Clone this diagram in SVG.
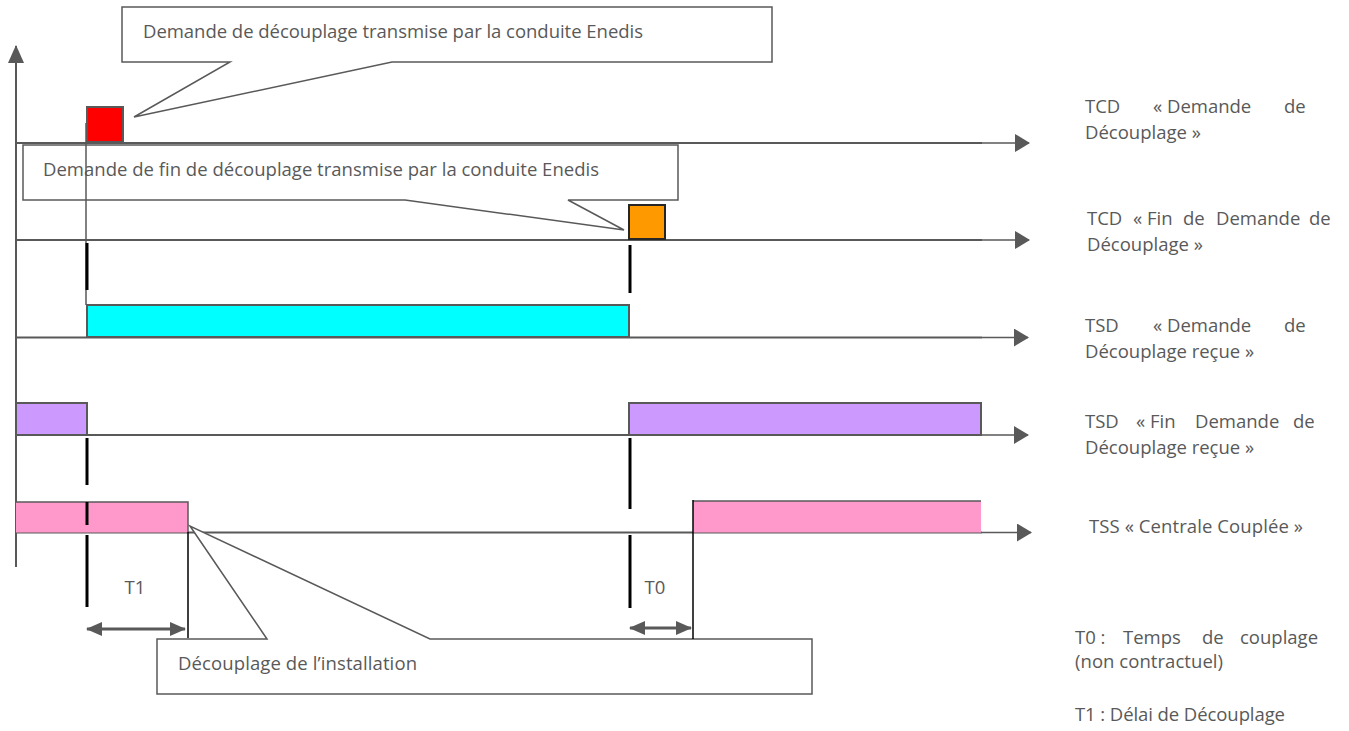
<svg xmlns="http://www.w3.org/2000/svg" width="1349" height="731" viewBox="0 0 1349 731">
<style>
  text { font-family: "Open Sans", "Liberation Sans", sans-serif; font-size: 18.5px; fill: #595959; }
  .axis { stroke: #595959; stroke-width: 2; fill: none; }
  .thin { stroke: #595959; stroke-width: 1.5; fill: none; }
  .tick { stroke: #000; stroke-width: 3; fill: none; }
  .tickthin { stroke: #000; stroke-width: 1.5; fill: none; }
  .dim { stroke: #595959; stroke-width: 3; fill: none; }
  .callout { fill: #fff; stroke: #595959; stroke-width: 1.5; }
  .bar { stroke: #595959; stroke-width: 2; }
</style>
<defs>
  <marker id="arr" viewBox="0 0 15 18" refX="14" refY="9" markerWidth="15" markerHeight="18" markerUnits="userSpaceOnUse" orient="auto">
    <path d="M0,0 L15,9 L0,18 Z" fill="#595959"/>
  </marker>
  <marker id="arrV" viewBox="0 0 18 16" refX="17" refY="8" markerWidth="18" markerHeight="16" markerUnits="userSpaceOnUse" orient="auto">
    <path d="M0,0 L18,8 L0,16 Z" fill="#595959"/>
  </marker>
  <marker id="dimA" viewBox="0 0 16 14" refX="15" refY="7" markerWidth="16" markerHeight="14" markerUnits="userSpaceOnUse" orient="auto-start-reverse">
    <path d="M0,0 L16,7 L0,14 Z" fill="#595959"/>
  </marker>
</defs>

<g id="connectors">
  <line class="axis" x1="16" y1="567" x2="16" y2="46" marker-end="url(#arrV)"/>
  <line class="axis" x1="16" y1="143" x2="982" y2="143"/>
  <line class="thin" x1="982" y1="143" x2="1029" y2="143" marker-end="url(#arr)"/>
  <line class="axis" x1="16" y1="240" x2="982" y2="240"/>
  <line class="thin" x1="982" y1="240" x2="1029" y2="240" marker-end="url(#arr)"/>
  <line class="axis" x1="16" y1="337.5" x2="982" y2="337.5"/>
  <line class="thin" x1="982" y1="337.5" x2="1028" y2="337.5" marker-end="url(#arr)"/>
  <line class="axis" x1="16" y1="435" x2="982" y2="435"/>
  <line class="thin" x1="982" y1="435" x2="1028" y2="435" marker-end="url(#arr)"/>
  <line class="axis" x1="16" y1="532.5" x2="982" y2="532.5"/>
  <line class="thin" x1="982" y1="532.5" x2="1031" y2="532.5" marker-end="url(#arr)"/>
</g>

<g id="bar-cyan">
  <rect class="bar" x="87" y="305" width="542" height="32" fill="#00FFFF"/>
</g>
<g id="bar-purple-1">
  <rect class="bar" x="16" y="403" width="71" height="32" fill="#CC99FF"/>
</g>
<g id="bar-purple-2">
  <rect class="bar" x="629" y="403" width="352" height="32" fill="#CC99FF"/>
</g>
<g id="bar-pink-1">
  <rect x="16" y="502" width="172" height="30.5" fill="#FF99CC"/>
  <path class="thin" d="M16,502 H188 V532"/>
</g>
<g id="bar-pink-2">
  <rect x="693" y="501" width="288" height="31.5" fill="#FF99CC"/>
  <line class="thin" x1="693" y1="501" x2="981" y2="501"/>
</g>

<g id="callout-demande">
  <path class="callout" d="M122,7 H772 V62 H392 L134,117 L230,62 H122 Z"/>
  <text x="143" y="38" textLength="500" lengthAdjust="spacing">Demande de découplage transmise par la conduite Enedis</text>
</g>
<g id="callout-fin">
  <path class="callout" d="M23,145 H678 V200 H568 L624,230 L405,200 H23 Z"/>
  <text x="43" y="176" textLength="556" lengthAdjust="spacing">Demande de fin de découplage transmise par la conduite Enedis</text>
</g>
<g id="callout-decouplage">
  <path class="callout" d="M157,639 H267 L190,526 L430,639 H812 V694 H157 Z"/>
  <text x="178" y="670" textLength="239" lengthAdjust="spacing">Découplage de l’installation</text>
</g>

<g id="square-red">
  <rect x="87" y="107" width="36" height="35" fill="#FF0000" stroke="#595959" stroke-width="2"/>
</g>
<g id="square-orange">
  <rect x="629" y="205" width="36" height="34" fill="#FF9900" stroke="#262626" stroke-width="2"/>
</g>

<g id="markers">
  <line class="thin" x1="86" y1="123" x2="86" y2="305"/>
  <line class="tick" x1="87" y1="243" x2="87" y2="290"/>
  <line class="tick" x1="87" y1="438" x2="87" y2="485"/>
  <line class="tick" x1="87" y1="502" x2="87" y2="525"/>
  <line class="tick" x1="87" y1="535" x2="87" y2="607"/>
  <line class="tick" x1="630" y1="245" x2="630" y2="293"/>
  <line class="tick" x1="630" y1="438" x2="630" y2="509"/>
  <line class="tick" x1="630" y1="535" x2="630" y2="608"/>
  <line class="tickthin" x1="188" y1="532" x2="188" y2="638"/>
  <line class="tickthin" x1="693" y1="500" x2="693" y2="639"/>
  <line class="dim" x1="87" y1="629" x2="185" y2="629" marker-start="url(#dimA)" marker-end="url(#dimA)"/>
  <line class="dim" x1="630" y1="628" x2="691" y2="628" marker-start="url(#dimA)" marker-end="url(#dimA)"/>
</g>

<g id="dim-labels">
  <text x="135" y="594" text-anchor="middle">T1</text>
  <text x="655" y="594" text-anchor="middle">T0</text>
</g>

<g id="label-tcd-demande">
  <text y="113"><tspan x="1085">TCD</tspan><tspan x="1153">« Demande</tspan><tspan x="1284">de</tspan></text>
  <text x="1085" y="139">Découplage »</text>
</g>
<g id="label-tcd-fin">
  <text y="225"><tspan x="1087">TCD</tspan><tspan x="1133">« Fin</tspan><tspan x="1183">de</tspan><tspan x="1216">Demande</tspan><tspan x="1309">de</tspan></text>
  <text x="1087" y="251">Découplage »</text>
</g>
<g id="label-tsd-demande">
  <text y="332"><tspan x="1085">TSD</tspan><tspan x="1153">« Demande</tspan><tspan x="1284">de</tspan></text>
  <text x="1085" y="358">Découplage reçue »</text>
</g>
<g id="label-tsd-fin">
  <text y="428"><tspan x="1085">TSD</tspan><tspan x="1136">« Fin</tspan><tspan x="1195">Demande</tspan><tspan x="1293">de</tspan></text>
  <text x="1085" y="454">Découplage reçue »</text>
</g>
<g id="label-tss">
  <text x="1089" y="533" textLength="214" lengthAdjust="spacing">TSS « Centrale Couplée »</text>
</g>
<g id="legend">
  <text y="644"><tspan x="1075">T0 :</tspan><tspan x="1123">Temps</tspan><tspan x="1202">de</tspan><tspan x="1240">couplage</tspan></text>
  <text x="1075" y="668" textLength="148" lengthAdjust="spacing">(non contractuel)</text>
  <text x="1075" y="721" textLength="210" lengthAdjust="spacing">T1 : Délai de Découplage</text>
</g>
</svg>
